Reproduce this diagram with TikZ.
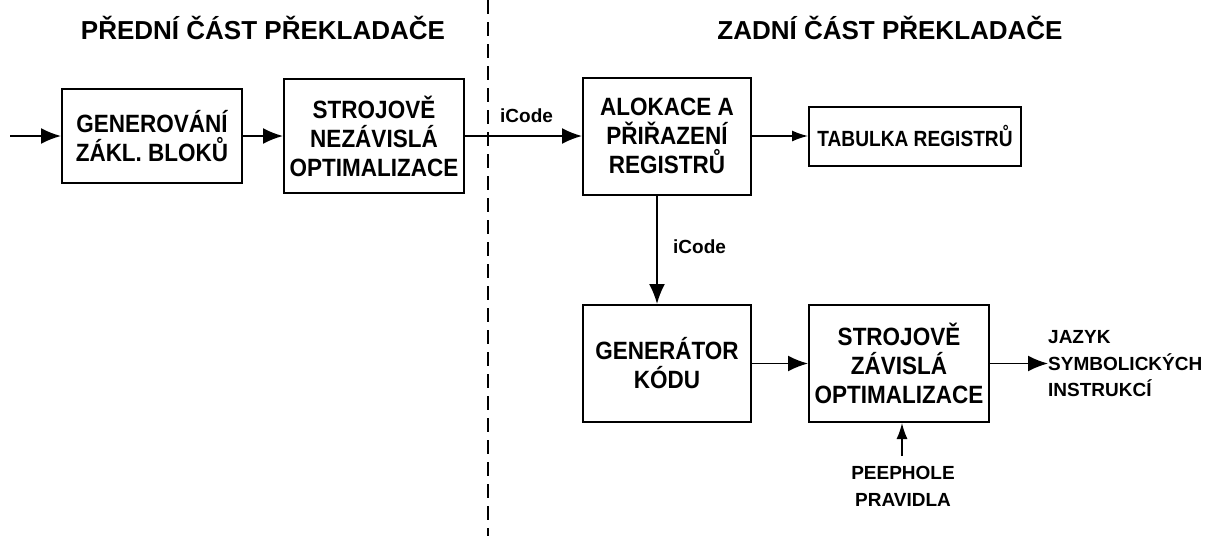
\documentclass[tikz,border=0pt]{standalone}
\usepackage{fontspec}
\setmainfont{Liberation Sans}
\newfontfamily\narrowfam{Liberation Sans}[FakeStretch=0.9]
\newfontfamily\tightfam{Liberation Sans}[FakeStretch=0.87]
\usetikzlibrary{arrows.meta}
\newcommand\boxfont{\narrowfam\fontsize{25}{29}\selectfont\bfseries}
\newcommand\tabfont{\tightfam\fontsize{22}{26}\selectfont\bfseries}
\newcommand\titlefont{\fontsize{26}{30}\selectfont\bfseries}
\newcommand\lblfont{\fontsize{19}{26.5}\selectfont\bfseries}
\begin{document}
\begin{tikzpicture}[x=1pt,y=-1pt,
  box/.style={draw, line width=2pt, inner sep=0pt, align=center, font=\boxfont},
  arr/.style={-{Latex[length=20pt,width=16pt]}, line width=1.8pt},
  thinarr/.style={-{Latex[length=16pt,width=11pt]}, line width=1.4pt},
  lbl/.style={inner sep=0pt, font=\lblfont},
  title/.style={inner sep=0pt, font=\titlefont},
  divider/.style={line width=1.5pt, dash pattern=on 14pt off 8pt}]
\useasboundingbox (0,0) rectangle (1207,536);

% section titles
\node[title, anchor=base] (tfront) at (263,39) {PŘEDNÍ ČÁST PŘEKLADAČE};
\node[title, anchor=base] (tback) at (890,39) {ZADNÍ ČÁST PŘEKLADAČE};

% front/back divider
\coordinate (dtop) at (488,0);
\coordinate (dbot) at (488,536);
\draw[divider] (dtop) -- (dbot);

% front end
\node[box, minimum width=180pt, minimum height=94pt] (b1) at (152,136)
  {GENEROVÁNÍ\\ZÁKL. BLOKŮ};
\node[box, minimum width=180pt, minimum height=114pt] (b2) at (374,136)
  {STROJOVĚ\\NEZÁVISLÁ\\OPTIMALIZACE};

% back end
\node[box, minimum width=168pt, minimum height=117pt] (b3) at (667,136)
  {ALOKACE A\\PŘIŘAZENÍ\\REGISTRŮ};
\node[box, minimum width=212pt, minimum height=59pt, font=\tabfont] (b4) at (915,136)
  {TABULKA REGISTRŮ};
\node[box, minimum width=168pt, minimum height=117pt] (b5) at (667,363.5)
  {GENERÁTOR\\KÓDU};
\node[box, minimum width=180pt, minimum height=117pt] (b6) at (899,363.5)
  {STROJOVĚ\\ZÁVISLÁ\\OPTIMALIZACE};

% side labels
\node[lbl, anchor=base west] (ic1) at (500,122) {iCode};
\node[lbl, anchor=base west] (ic2) at (673,253) {iCode};
\node[lbl, anchor=north west, align=left] (out) at (1048,330.5)
  {JAZYK\\SYMBOLICKÝCH\\INSTRUKCÍ};
\node[lbl, anchor=north, align=center] (pp) at (903,466.5)
  {PEEPHOLE\\PRAVIDLA};

% connectors
\coordinate (in) at (10,136);
\coordinate (ppin) at (902,456);
\draw[arr] (in) -- (b1.west);
\draw[arr] (b1.east) -- (b2.west);
\draw[arr] (b2.east) -- (b3.west);
\draw[thinarr] (b3.east) -- (b4.west);
\draw[arr] ([xshift=-10pt]b3.south) -- ([xshift=-10pt]b5.north);
\draw[arr] (b5.east) -- (b6.west);
\draw[arr] (b6.east) -- (b6.east -| out.west);
\draw[thinarr] (ppin) -- (ppin |- b6.south);
\end{tikzpicture}
\end{document}
